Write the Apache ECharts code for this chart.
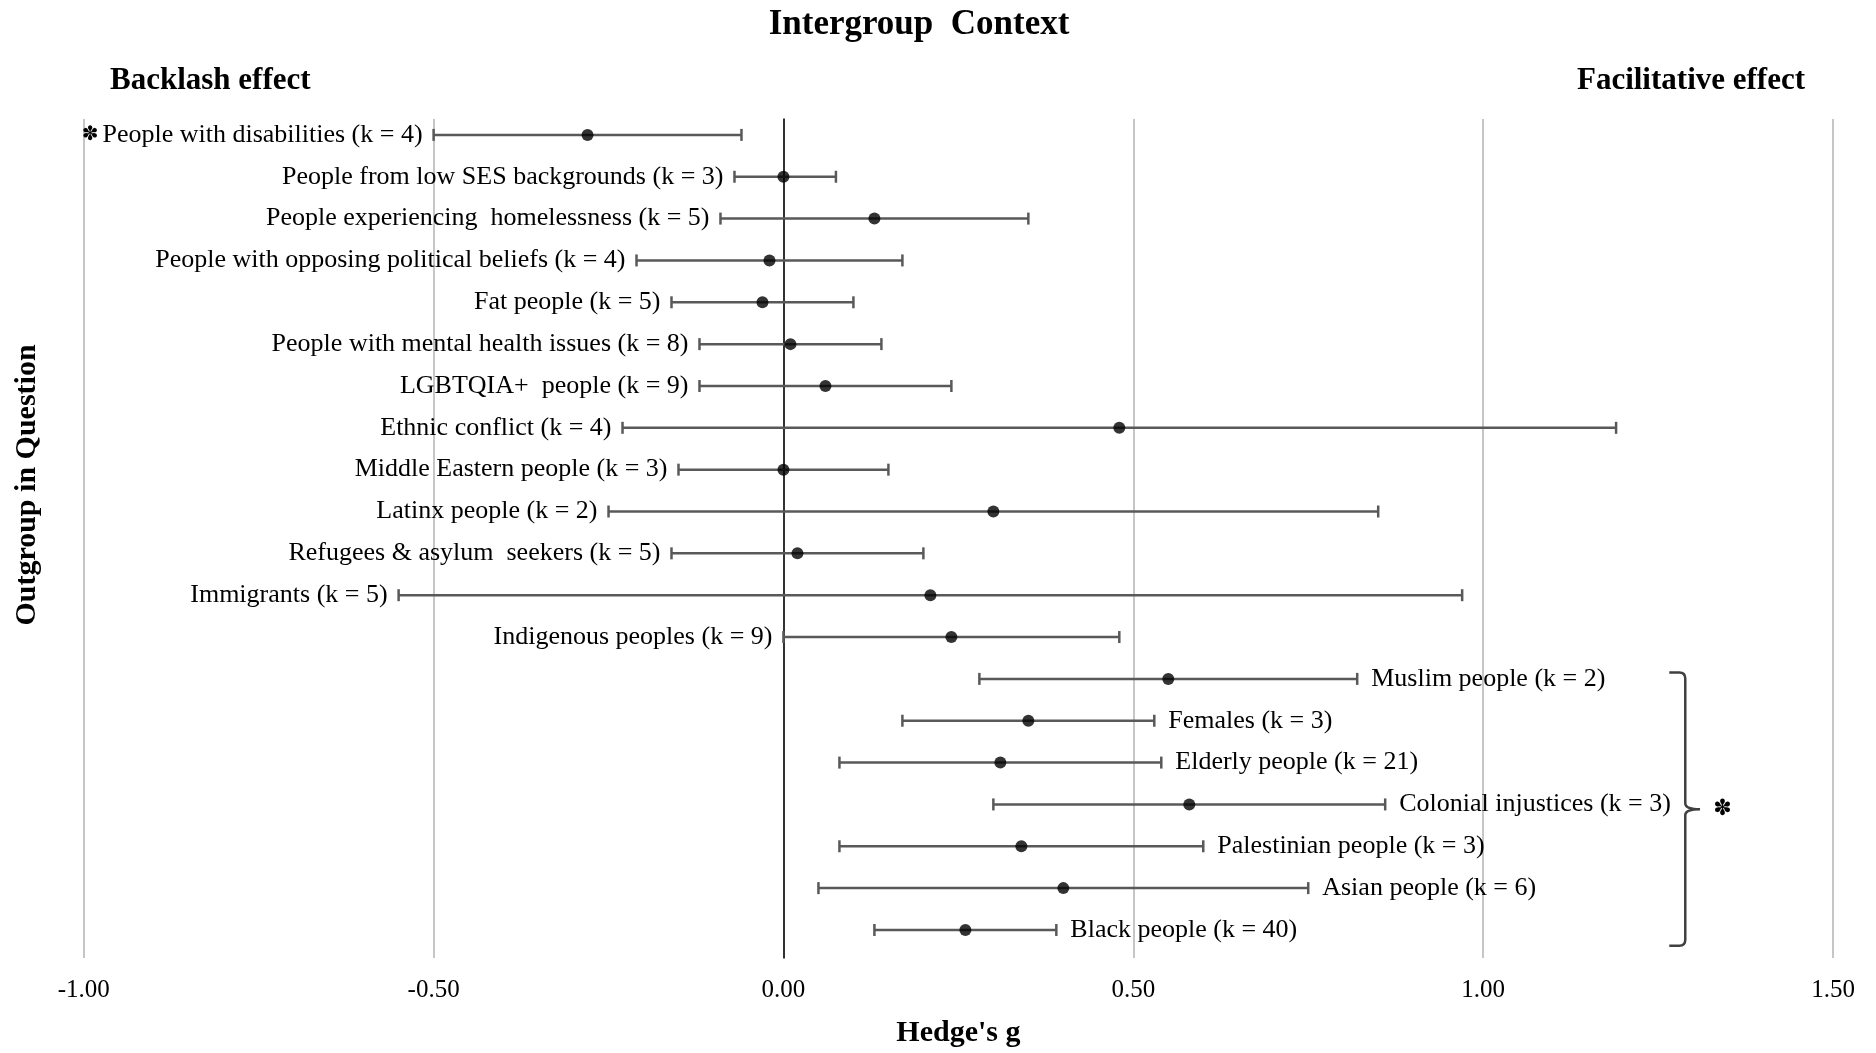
<!DOCTYPE html>
<html>
<head>
<meta charset="utf-8">
<script src="https://cdn.jsdelivr.net/npm/echarts@6/dist/echarts.min.js"></script>
<style>
html,body{margin:0;padding:0;background:#fff;}
#chart{width:1876px;height:1053px;}
</style>
</head>
<body>
<div id="chart"></div>
<script>
// ---- data ----
const outgroups = [
  'People with disabilities',
  'People from low SES backgrounds',
  'People experiencing  homelessness',
  'People with opposing political beliefs',
  'Fat people',
  'People with mental health issues',
  'LGBTQIA+  people',
  'Ethnic conflict',
  'Middle Eastern people',
  'Latinx people',
  'Refugees & asylum  seekers',
  'Immigrants',
  'Indigenous peoples',
  'Muslim people',
  'Females',
  'Elderly people',
  'Colonial injustices',
  'Palestinian people',
  'Asian people',
  'Black people'
];
const kStudies = [4, 3, 5, 4, 5, 8, 9, 4, 3, 2, 5, 5, 9, 2, 3, 21, 3, 3, 6, 40];
const hedgesG = [-0.28, 0.00, 0.13, -0.02, -0.03, 0.01, 0.06, 0.48, 0.00, 0.30, 0.02, 0.21, 0.24, 0.55, 0.35, 0.31, 0.58, 0.34, 0.40, 0.26];
const ciLower = [-0.50, -0.07, -0.09, -0.21, -0.16, -0.12, -0.12, -0.23, -0.15, -0.25, -0.16, -0.55, 0.00, 0.28, 0.17, 0.08, 0.30, 0.08, 0.05, 0.13];
const ciUpper = [-0.06, 0.075, 0.35, 0.17, 0.10, 0.14, 0.24, 1.19, 0.15, 0.85, 0.20, 0.97, 0.48, 0.82, 0.53, 0.54, 0.86, 0.60, 0.75, 0.39];
const starred = [true, false, false, false, false, false, false, false, false, false, false, false, false, false, false, false, false, false, false, false];
const bracketedCount = 7; // last 7 outgroups are grouped by the bracket (significant)
const xTicks = [-1.0, -0.5, 0.0, 0.5, 1.0, 1.5];

// ---- styles ----
const SERIF = '"Liberation Serif", "Times New Roman", serif';
const barColor = '#595959';

const rows = outgroups.map((_, i) => i + 1);
const barData = rows.map((r, i) => [r, ciLower[i], ciUpper[i]]);
const pointData = rows.map((r, i) => [hedgesG[i], r]);
const firstBr = outgroups.length - bracketedCount + 1;
const lastBr = outgroups.length;
const bracketData = [[1.266, firstBr - 0.15, lastBr + 0.38, 1.31, 1.342]];

const chart = echarts.init(document.getElementById('chart'));
chart.setOption({
  backgroundColor: '#ffffff',
  animation: false,
  grid: { left: 83.75, right: 43, top: 119, bottom: 91 },
  xAxis: {
    type: 'value',
    min: xTicks[0],
    max: xTicks[xTicks.length - 1],
    interval: 0.5,
    axisLine: { show: false, onZero: false },
    axisTick: { show: false },
    splitLine: { show: true, lineStyle: { color: '#c6c6c6', width: 2 } },
    axisLabel: {
      margin: 20,
      fontFamily: SERIF,
      fontSize: 25,
      color: '#000',
      formatter: v => v.toFixed(2)
    },
    name: "Hedge's g",
    nameLocation: 'middle',
    nameGap: 60,
    nameTextStyle: { fontFamily: SERIF, fontSize: 30, fontWeight: 'bold', color: '#000' }
  },
  yAxis: {
    type: 'value',
    inverse: true,
    min: 0.62,
    max: 20.67,
    axisLine: { show: true, onZero: true, lineStyle: { color: '#000', width: 1.5 } },
    axisTick: { show: false },
    axisLabel: { show: false },
    splitLine: { show: false }
  },
  graphic: [
    { type: 'text', x: 919, y: 25, style: { text: 'Intergroup  Context', fontFamily: SERIF, fontSize: 35, fontWeight: 'bold', fill: '#000', align: 'center', verticalAlign: 'middle' } },
    { type: 'text', x: 110, y: 81, style: { text: 'Backlash effect', fontFamily: SERIF, fontSize: 31, fontWeight: 'bold', fill: '#000', align: 'left', verticalAlign: 'middle' } },
    { type: 'text', x: 1805, y: 81, style: { text: 'Facilitative effect', fontFamily: SERIF, fontSize: 31, fontWeight: 'bold', fill: '#000', align: 'right', verticalAlign: 'middle' } },
    { type: 'text', x: 27, y: 485, rotation: Math.PI / 2, style: { text: 'Outgroup in Question', fontFamily: SERIF, fontSize: 30, fontWeight: 'bold', fill: '#000', align: 'center', verticalAlign: 'middle' } }
  ],
  series: [
    {
      type: 'custom',
      name: 'CI',
      data: barData,
      encode: { x: [1, 2], y: 0 },
      z: 2,
      renderItem: function (params, api) {
        const i = params.dataIndex;
        const r = api.value(0), lo = api.value(1), hi = api.value(2);
        const pL = api.coord([lo, r]);
        const pH = api.coord([hi, r]);
        const cap = 6;
        const lineStyle = { stroke: barColor, lineWidth: 2.5 };
        const onRight = i >= outgroups.length - bracketedCount;
        let label = outgroups[i] + ' (k = ' + kStudies[i] + ')';
        if (starred[i]) label = '{s|\u273D}' + label;
        return {
          type: 'group',
          children: [
            { type: 'line', shape: { x1: pL[0], y1: pL[1], x2: pH[0], y2: pH[1] }, style: lineStyle },
            { type: 'line', shape: { x1: pL[0], y1: pL[1] - cap, x2: pL[0], y2: pL[1] + cap }, style: lineStyle },
            { type: 'line', shape: { x1: pH[0], y1: pH[1] - cap, x2: pH[0], y2: pH[1] + cap }, style: lineStyle },
            {
              type: 'text',
              style: {
                text: label,
                x: onRight ? pH[0] + 14 : pL[0] - 11,
                y: pL[1],
                align: onRight ? 'left' : 'right',
                verticalAlign: 'middle',
                fontFamily: SERIF,
                fontSize: 26,
                fill: '#000',
                rich: { s: { fontFamily: 'DejaVu Sans', fontSize: 20, fill: '#000', padding: [0, 4, 0, 0] } }
              }
            }
          ]
        };
      }
    },
    {
      type: 'scatter',
      name: "Hedge's g",
      data: pointData,
      symbol: 'circle',
      symbolSize: 12,
      itemStyle: { color: '#000' },
      z: 5
    },
    {
      type: 'custom',
      name: 'bracket',
      data: bracketData,
      encode: { x: [0, 3], y: [1, 2] },
      z: 3,
      renderItem: function (params, api) {
        const x0 = api.value(0), yt = api.value(1), yb = api.value(2), xt = api.value(3), xs = api.value(4);
        const pTop = api.coord([x0, yt]);
        const pBot = api.coord([x0, yb]);
        const ym = (pTop[1] + pBot[1]) / 2;
        const xv = pTop[0] + 16;
        const xTip = api.coord([xt, yt])[0];
        const rr = 6;
        const d = 'M' + pTop[0] + ',' + pTop[1] +
          ' L' + (xv - rr) + ',' + pTop[1] +
          ' Q' + xv + ',' + pTop[1] + ' ' + xv + ',' + (pTop[1] + rr) +
          ' L' + xv + ',' + (ym - rr) +
          ' Q' + xv + ',' + ym + ' ' + xTip + ',' + ym +
          ' Q' + xv + ',' + ym + ' ' + xv + ',' + (ym + rr) +
          ' L' + xv + ',' + (pBot[1] - rr) +
          ' Q' + xv + ',' + pBot[1] + ' ' + (xv - rr) + ',' + pBot[1] +
          ' L' + pTop[0] + ',' + pBot[1];
        const pStar = api.coord([xs, (yt + yb) / 2]);
        return {
          type: 'group',
          children: [
            { type: 'path', shape: { pathData: d }, style: { stroke: '#404040', lineWidth: 2.5, fill: null } },
            { type: 'text', style: { text: '\u273D', x: pStar[0], y: ym, align: 'center', verticalAlign: 'middle', fontFamily: 'DejaVu Sans', fontSize: 22, fill: '#000' } }
          ]
        };
      }
    }
  ]
});
</script>
</body>
</html>
